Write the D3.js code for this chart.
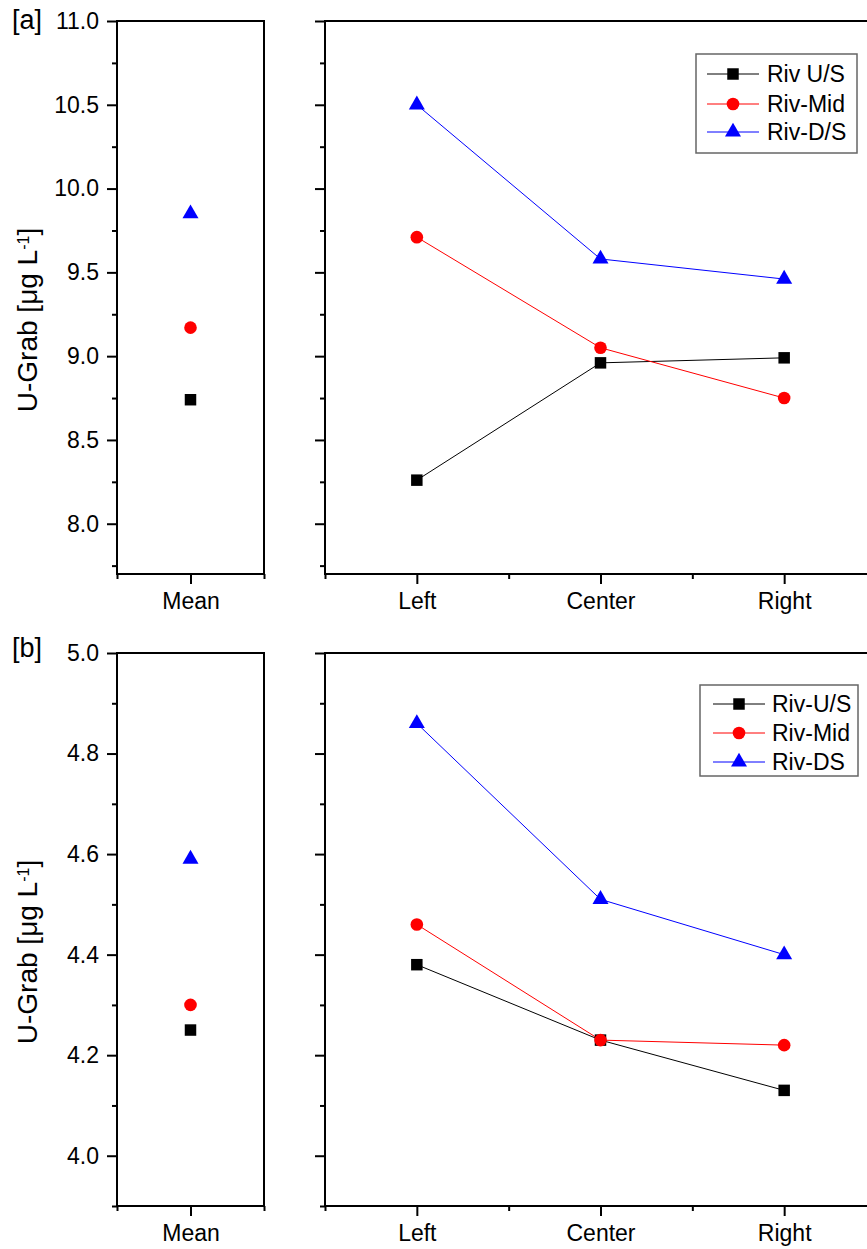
<!DOCTYPE html>
<html>
<head>
<meta charset="utf-8">
<script src="https://cdn.jsdelivr.net/npm/d3@7"></script>
<style>
  html, body { margin: 0; padding: 0; background: #fff; }
  svg { display: block; font-family: Arial, "Liberation Sans", sans-serif; }
</style>
</head>
<body>
<svg id="chart" width="867" height="1249"></svg>
<script>
// ---------- DATA ----------
const positions = ["Left", "Center", "Right"];
const meanCategory = ["Mean"];

const seriesNamesA = ["Riv U/S", "Riv-Mid", "Riv-D/S"];
const seriesNamesB = ["Riv-U/S", "Riv-Mid", "Riv-DS"];

// Panel [a]
const aUS  = [8.26, 8.96, 8.99];
const aMid = [9.71, 9.05, 8.75];
const aDS  = [10.50, 9.58, 9.46];
const aMean = [8.74, 9.17, 9.85];   // U/S, Mid, D/S
const aDomain = [7.7, 11.0];
const aMajorTicks = [8.0, 8.5, 9.0, 9.5, 10.0, 10.5, 11.0];
const aMinorTicks = [7.75, 8.25, 8.75, 9.25, 9.75, 10.25, 10.75];

// Panel [b]
const bUS  = [4.38, 4.23, 4.13];
const bMid = [4.46, 4.23, 4.22];
const bDS  = [4.86, 4.51, 4.40];
const bMean = [4.25, 4.30, 4.59];
const bDomain = [3.9, 5.0];
const bMajorTicks = [4.0, 4.2, 4.4, 4.6, 4.8, 5.0];
const bMinorTicks = [3.9, 4.1, 4.3, 4.5, 4.7, 4.9];

const seriesColors = ["#000000", "#ff0000", "#0000ff"];
const seriesSymbols = [d3.symbolSquare, d3.symbolCircle, d3.symbolTriangle];
const symbolSizes = [132, 125, 111];

// ---------- LAYOUT ----------
const svg = d3.select("#chart");
const leftX = [117, 264];
const rightX = [325, 876];
const tickFont = 23;

function drawPanel(cfg) {
  const g = svg.append("g");
  const y = d3.scaleLinear().domain(cfg.domain).range([cfg.bottom, cfg.top]);
  const xMean = d3.scaleLinear().domain([0.5, 1.5]).range(leftX);
  const xPos = d3.scaleLinear().domain([0.5, 3.5]).range(rightX);

  function styleAxis(sel) {
    sel.select(".domain").remove();
    sel.selectAll(".tick line").attr("stroke", "#000").attr("stroke-width", 2);
    sel.selectAll(".tick text").attr("fill", "#000").style("font-size", tickFont + "px")
       .style("font-family", 'Arial, "Liberation Sans", sans-serif');
  }

  // --- Left (Mean) panel ---
  const lp = g.append("g");
  lp.append("g").attr("transform", `translate(${leftX[0]},0)`)
    .call(d3.axisLeft(y).tickValues(cfg.minor).tickSize(5).tickFormat(""))
    .call(styleAxis);
  lp.append("g").attr("transform", `translate(${leftX[0]},0)`)
    .call(d3.axisLeft(y).tickValues(cfg.major).tickSize(10).tickPadding(8).tickFormat(d3.format(".1f")))
    .call(styleAxis);
  lp.append("g").attr("transform", `translate(0,${cfg.bottom})`)
    .call(d3.axisBottom(xMean).tickValues([0.5, 1.5]).tickSize(5).tickFormat(""))
    .call(styleAxis);
  lp.append("g").attr("transform", `translate(0,${cfg.bottom})`)
    .call(d3.axisBottom(xMean).tickValues([1]).tickSize(10).tickPadding(9).tickFormat(() => meanCategory[0]))
    .call(styleAxis);
  lp.append("rect")
    .attr("x", leftX[0]).attr("y", cfg.top)
    .attr("width", leftX[1] - leftX[0]).attr("height", cfg.bottom - cfg.top)
    .attr("fill", "none").attr("stroke", "#000").attr("stroke-width", 2);

  cfg.mean.forEach((v, i) => {
    lp.append("path")
      .attr("d", d3.symbol().type(seriesSymbols[i]).size(symbolSizes[i])())
      .attr("transform", `translate(${xMean(1)},${y(v)})`)
      .attr("fill", seriesColors[i]);
  });

  // --- Right (positions) panel ---
  const rp = g.append("g");
  rp.append("g").attr("transform", `translate(${rightX[0]},0)`)
    .call(d3.axisLeft(y).tickValues(cfg.minor).tickSize(5).tickFormat(""))
    .call(styleAxis);
  rp.append("g").attr("transform", `translate(${rightX[0]},0)`)
    .call(d3.axisLeft(y).tickValues(cfg.major).tickSize(10).tickFormat(""))
    .call(styleAxis);
  rp.append("g").attr("transform", `translate(0,${cfg.bottom})`)
    .call(d3.axisBottom(xPos).tickValues([0.5, 1.5, 2.5, 3.5]).tickSize(5).tickFormat(""))
    .call(styleAxis);
  rp.append("g").attr("transform", `translate(0,${cfg.bottom})`)
    .call(d3.axisBottom(xPos).tickValues([1, 2, 3]).tickSize(10).tickPadding(9)
      .tickFormat(d => positions[d - 1]))
    .call(styleAxis);
  rp.append("rect")
    .attr("x", rightX[0]).attr("y", cfg.top)
    .attr("width", rightX[1] - rightX[0]).attr("height", cfg.bottom - cfg.top)
    .attr("fill", "none").attr("stroke", "#000").attr("stroke-width", 2);

  const line = d3.line().x((d, i) => xPos(i + 1)).y(d => y(d));
  cfg.series.forEach((vals, si) => {
    rp.append("path").datum(vals).attr("d", line)
      .attr("fill", "none").attr("stroke", seriesColors[si]).attr("stroke-width", 1);
  });
  cfg.series.forEach((vals, si) => {
    vals.forEach((v, i) => {
      rp.append("path")
        .attr("d", d3.symbol().type(seriesSymbols[si]).size(symbolSizes[si])())
        .attr("transform", `translate(${xPos(i + 1)},${y(v)})`)
        .attr("fill", seriesColors[si]);
    });
  });

  // --- Legend ---
  const L = cfg.legend;
  const lg = g.append("g");
  lg.append("rect").attr("x", L.x0).attr("y", L.y0)
    .attr("width", L.x1 - L.x0).attr("height", L.y1 - L.y0)
    .attr("fill", "#fff").attr("stroke", "#666").attr("stroke-width", 1.5);
  cfg.names.forEach((name, i) => {
    const ry = L.rows[i];
    lg.append("line").attr("x1", L.lx0).attr("x2", L.lx1).attr("y1", ry).attr("y2", ry)
      .attr("stroke", seriesColors[i]).attr("stroke-width", 1);
    lg.append("path")
      .attr("d", d3.symbol().type(seriesSymbols[i]).size(symbolSizes[i])())
      .attr("transform", `translate(${(L.lx0 + L.lx1) / 2},${ry})`)
      .attr("fill", seriesColors[i]);
    lg.append("text").attr("x", L.tx).attr("y", ry).attr("dy", "0.36em")
      .style("font-size", tickFont + "px").attr("fill", "#000").text(name);
  });

  // --- Y label ---
  const ly = cfg.top + 299;
  const yl = g.append("text")
    .attr("transform", `translate(37,${ly}) rotate(-90)`)
    .attr("text-anchor", "middle")
    .style("font-size", "28px").attr("fill", "#000");
  yl.append("tspan").text("U-Grab [\u03BCg L");
  yl.append("tspan").attr("baseline-shift", "super").style("font-size", "16px").text("-1");
  yl.append("tspan").text("]");

  // --- Panel tag ---
  g.append("text").attr("x", 12).attr("y", cfg.tagY)
    .style("font-size", "27px").attr("fill", "#000").text(cfg.tag);
}

drawPanel({
  top: 21, bottom: 574, domain: aDomain, major: aMajorTicks, minor: aMinorTicks,
  mean: aMean, series: [aUS, aMid, aDS], names: seriesNamesA, tag: "[a]", tagY: 29,
  legend: { x0: 696, x1: 857, y0: 54, y1: 153, rows: [74, 104, 132], lx0: 707, lx1: 759, tx: 767 }
});
drawPanel({
  top: 653, bottom: 1206, domain: bDomain, major: bMajorTicks, minor: bMinorTicks,
  mean: bMean, series: [bUS, bMid, bDS], names: seriesNamesB, tag: "[b]", tagY: 657,
  legend: { x0: 700, x1: 858, y0: 685, y1: 776, rows: [704, 733, 762], lx0: 713, lx1: 765, tx: 772 }
});
</script>
</body>
</html>
